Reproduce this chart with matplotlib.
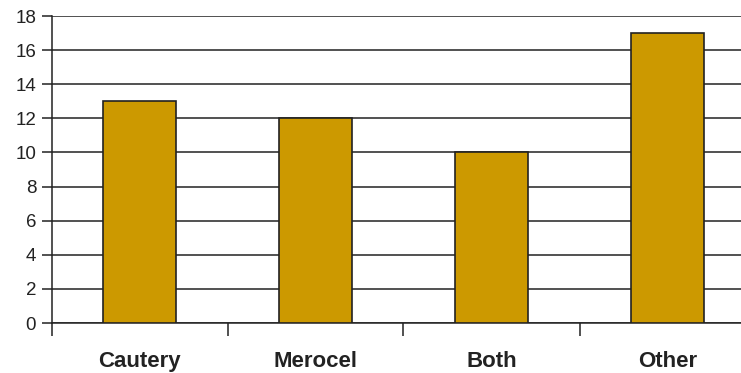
import matplotlib
matplotlib.use('Agg')
import matplotlib.pyplot as plt
import numpy as np

plt.rcParams['font.family'] = ['Liberation Sans', 'DejaVu Sans']

categories = ['Cautery', 'Merocel', 'Both', 'Other']
counts = [13, 12, 10, 17]

fig = plt.figure(figsize=(7.41, 3.73), dpi=100)
W, H = 741, 373
ax = fig.add_axes([51.5 / W, 50 / H, 704 / W, 307 / H])

x = np.arange(len(categories))
ax.bar(x, counts, width=0.41, color='#CC9900', edgecolor='#222222', linewidth=1.2, zorder=3)

ax.set_xlim(-0.5, len(categories) - 0.5)
ax.set_ylim(0, 18)
ax.set_yticks(range(0, 19, 2))
ax.yaxis.grid(True, color='#222222', linewidth=1.1, zorder=0)

# category labels in the middle, tick marks between categories
ax.set_xticks(np.arange(-0.5, len(categories), 1.0))
ax.set_xticklabels([])
ax.set_xticks(x, minor=True)
ax.set_xticklabels(categories, minor=True, fontsize=16, fontweight='bold', color='#222222')
ax.tick_params(axis='x', which='minor', length=0, pad=20)
ax.tick_params(axis='x', which='major', length=9, width=1.1, color='#222222')
ax.tick_params(axis='y', length=7, width=1.1, color='#222222', labelsize=13.5, labelcolor='#222222', pad=4)

for s in ['top', 'right']:
    ax.spines[s].set_visible(False)
for s in ['left', 'bottom']:
    ax.spines[s].set_color('#222222')
    ax.spines[s].set_linewidth(1.1)

fig.savefig('out.png', dpi=100)
